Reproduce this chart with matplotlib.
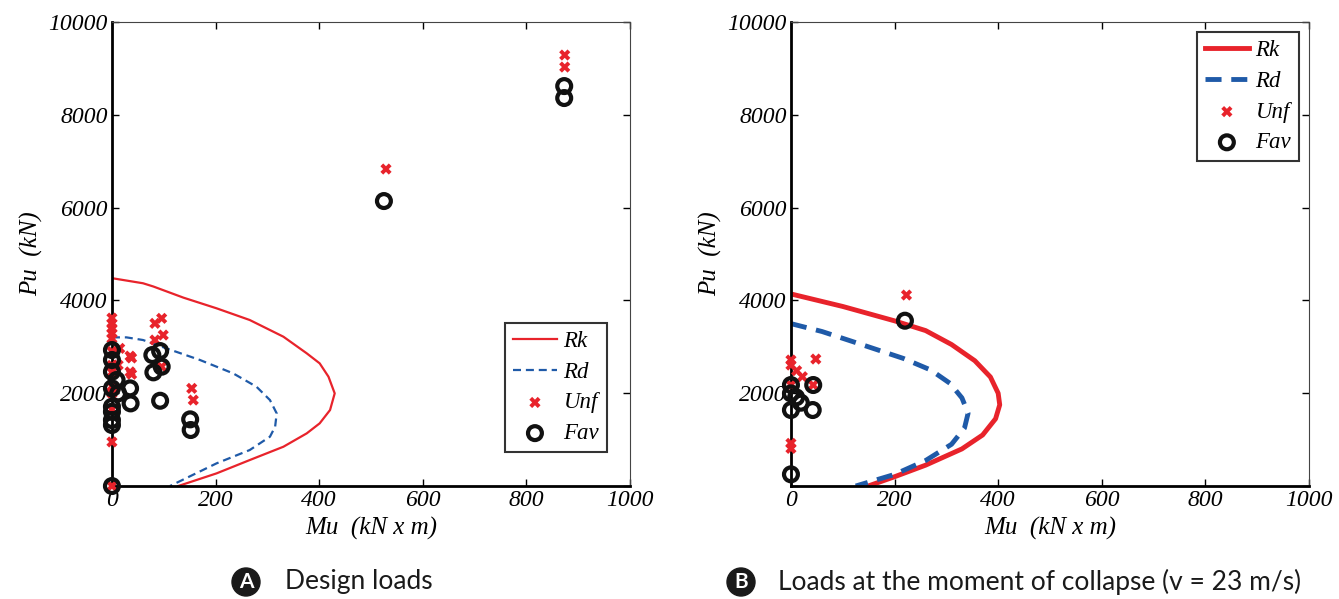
import matplotlib
matplotlib.use("Agg")
import matplotlib.pyplot as plt
from matplotlib.patches import Circle

# interaction curves, panel A (design loads)
rk_a_mu = [0, 60, 80, 138, 202, 266, 331, 376, 401, 418, 430, 421, 401, 376, 331, 266, 202, 128]
rk_a_pu = [4480, 4370, 4300, 4060, 3830, 3578, 3218, 2860, 2644, 2356, 1997, 1638, 1351, 1135, 847, 560, 273, 0]
rd_a_mu = [0, 28, 60, 105, 170, 234, 279, 305, 318, 315, 305, 266, 202, 112]
rd_a_pu = [3204, 3204, 3147, 2967, 2716, 2428, 2140, 1853, 1566, 1278, 1063, 776, 489, 0]

unf_a_mu = [0, 0, 0, 0, 0, 0, 0, 0, 0, 0, 0, 0, 0, 15, 12, 35, 38, 35, 38,
            83, 96, 83, 99, 96, 154, 157, 529, 874, 874]
unf_a_pu = [3620, 3500, 3400, 3290, 3180, 2900, 2600, 2450, 2150, 2000, 1650, 950, 0,
            2967, 2608, 2800, 2760, 2460, 2410, 3506, 3614, 3147, 3254, 2572,
            2105, 1853, 6832, 9289, 9030]
fav_a_mu = [0, 0, 0, 0, 0, 0, 0, 0, 0, 9, 12, 35, 36, 78, 93, 80, 96, 93, 151, 152, 525, 873, 873]
fav_a_pu = [2931, 2716, 2464, 2105, 1709, 1601, 1422, 1315, 0, 2285, 1997, 2105, 1781,
            2823, 2909, 2450, 2572, 1838, 1437, 1207, 6142, 8620, 8362]

# panel B (loads at collapse)
rk_b_mu = [0, 100, 200, 260, 310, 355, 385, 400, 403, 395, 370, 330, 260, 200, 149]
rk_b_pu = [4140, 3870, 3560, 3350, 3050, 2700, 2350, 2000, 1750, 1450, 1100, 800, 450, 200, 0]
rd_b_mu = [0, 60, 120, 217, 270, 307, 330, 342, 335, 310, 260, 200, 125]
rd_b_pu = [3500, 3330, 3110, 2750, 2500, 2213, 1900, 1570, 1250, 900, 550, 250, 0]

unf_b_mu = [0, 0, 11, 22, 48, 43, 0, 0, 0, 223]
unf_b_pu = [2716, 2608, 2486, 2356, 2737, 2177, 2177, 920, 812, 4116]
fav_b_mu = [0, 0, 10, 19, 0, 42, 43, 0, 220]
fav_b_pu = [2177, 1997, 1911, 1796, 1638, 1638, 2177, 252, 3563]

RED = "#e8232b"
BLUE = "#1f5aa8"
serif = "Liberation Serif"

fig = plt.figure(figsize=(13.39, 5.99), dpi=100)
ax1 = fig.add_axes([0.0836, 0.1886, 0.3869, 0.7746])
ax2 = fig.add_axes([0.5907, 0.1886, 0.3869, 0.7746])


def panel(ax, rk, rd, unf, fav, lw, dash, leg_loc, leg_anchor):
    ax.plot(rk[0], rk[1], color=RED, lw=lw, label="Rk")
    ax.plot(rd[0], rd[1], color=BLUE, lw=lw, ls=(0, dash), label="Rd")
    ax.scatter(unf[0], unf[1], marker="X", s=65, color=RED, edgecolors="none",
               label="Unf", clip_on=False, zorder=3)
    ax.scatter(fav[0], fav[1], marker="o", s=100, facecolors="none", edgecolors="#111111",
               linewidths=3.0, label="Fav", clip_on=False, zorder=4)
    ax.set_xlim(0, 1000)
    ax.set_ylim(0, 10000)
    ax.set_xticks(range(0, 1001, 200))
    ax.set_yticks(range(0, 10001, 2000))
    ax.set_yticklabels(["", "2000", "4000", "6000", "8000", "10000"])
    ax.tick_params(direction="in", top=True, right=True, length=5, width=1, pad=3)
    for lab in ax.get_xticklabels() + ax.get_yticklabels():
        lab.set_fontfamily(serif)
        lab.set_fontstyle("italic")
        lab.set_fontsize(17)
    for s in ["top", "right"]:
        ax.spines[s].set_linewidth(0.8)
        ax.spines[s].set_color("#444444")
    for s in ["left", "bottom"]:
        ax.spines[s].set_linewidth(2)
    ax.set_xlabel("Mu  (kN x m)", fontfamily=serif, fontstyle="italic", fontsize=18, labelpad=4)
    ax.set_ylabel("Pu  (kN)", fontfamily=serif, fontstyle="italic", fontsize=18, labelpad=4)
    leg = ax.legend(loc=leg_loc, bbox_to_anchor=leg_anchor, fancybox=False,
                    edgecolor="#333333", framealpha=1, borderaxespad=0,
                    prop={"family": serif, "style": "italic", "size": 16.5},
                    handlelength=1.9, borderpad=0.35, labelspacing=0.42, handletextpad=0.3)
    leg.get_frame().set_linewidth(1.5)
    return leg


panel(ax1, (rk_a_mu, rk_a_pu), (rd_a_mu, rd_a_pu), (unf_a_mu, unf_a_pu),
      (fav_a_mu, fav_a_pu), 1.6, (3.6, 2.2), "lower left", (0.759, 0.073))
panel(ax2, (rk_b_mu, rk_b_pu), (rd_b_mu, rd_b_pu), (unf_b_mu, unf_b_pu),
      (fav_b_mu, fav_b_pu), 3.5, (3.3, 2), "upper right", (0.981, 0.978))

# captions with round badges
for cx, tx, letter, text in [(246, 285, "A", "Design loads"),
                             (741, 778, "B", "Loads at the moment of collapse (v = 23 m/s)")]:
    fy = 1 - 582 / 599
    fig.patches.append(Circle((cx, 599 - 582), 14, transform=None, color="#1a1a1a"))
    fig.text(cx / 1339, fy, letter, color="white", ha="center", va="center",
             fontsize=15, fontweight="bold", family="Lato")
    fig.text(tx / 1339, fy, text, ha="left", va="center", fontsize=19,
             family="Lato", color="#1a1a1a")

fig.savefig("out.png", dpi=100)
